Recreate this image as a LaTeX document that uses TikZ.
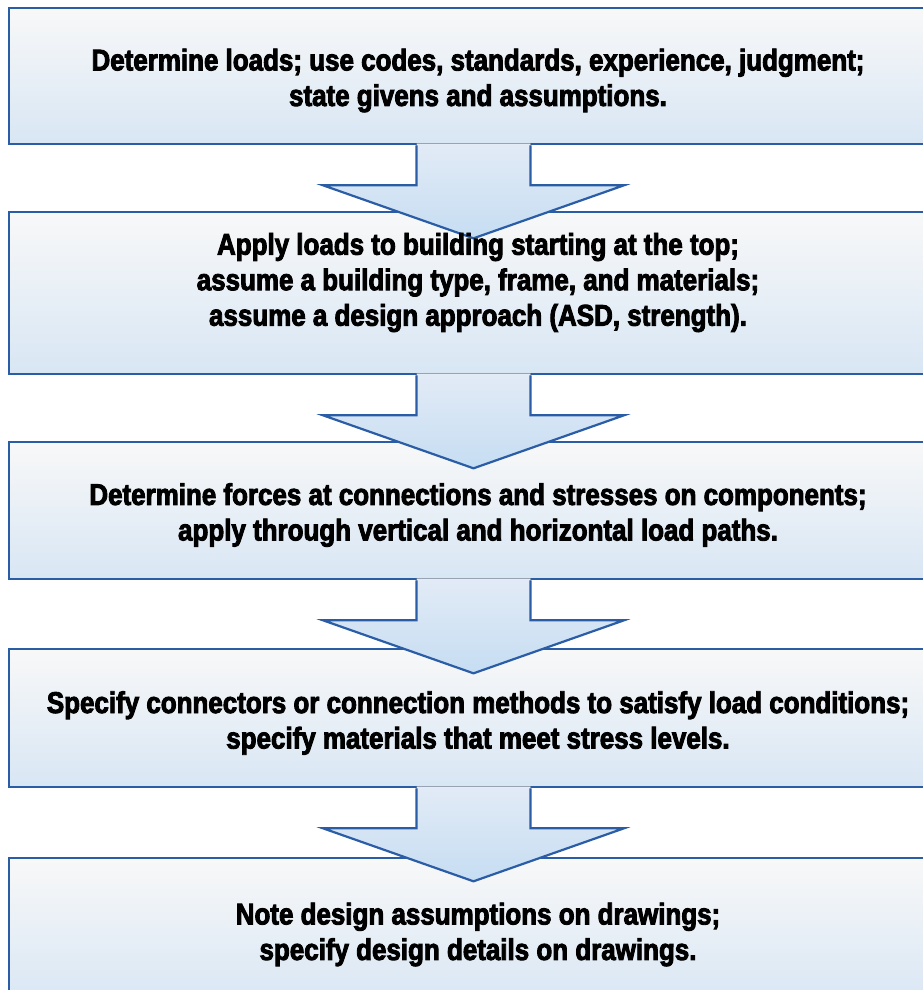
\documentclass[tikz,border=0pt]{standalone}
\usepackage{fontspec}
\setmainfont[FakeStretch=0.865,BoldFeatures={FakeBold=3}]{Liberation Sans}
\usetikzlibrary{calc}
\definecolor{edge}{RGB}{42,93,166}
\definecolor{boxtop}{RGB}{248,248,248}
\definecolor{boxbot}{RGB}{216,230,244}
\definecolor{arrtop}{RGB}{226,235,246}
\definecolor{arrbot}{RGB}{198,221,242}
\tikzset{
  stagebox/.style={draw=edge, line width=2.6pt, rectangle, inner sep=0pt,
    minimum width=938pt, top color=boxtop, bottom color=boxbot},
  stagetext/.style={inner sep=0pt, align=center,
    font=\fontsize{30}{35.5}\selectfont\bfseries},
  arrline/.style={draw=edge, line width=2.2pt, line join=miter},
  arrfill/.style={top color=arrtop, bottom color=arrbot}
}
\newcommand{\blockarrow}[1]{%
  \fill[arrfill] ($(#1.south)+(-61.5,-2)$) -- ($(#1.south)+(-61.5,40)$) -- ($(#1.south)+(-155,40)$)
    -- ($(#1.south)+(-4.5,93)$) -- ($(#1.south)+(146,40)$) -- ($(#1.south)+(52.5,40)$)
    -- ($(#1.south)+(52.5,-2)$) -- cycle;
  \draw[arrline] ($(#1.south)+(-61.5,0)$) -- ($(#1.south)+(-61.5,40)$) -- ($(#1.south)+(-155,40)$)
    -- ($(#1.south)+(-4.5,93)$) -- ($(#1.south)+(146,40)$) -- ($(#1.south)+(52.5,40)$)
    -- ($(#1.south)+(52.5,0)$);
}
\begin{document}
\begin{tikzpicture}[x=1pt,y=-1pt]
\useasboundingbox (0,0) rectangle (922,990);
\node[stagebox, minimum height=136pt] (b1) at (478,76) {};
\node[stagebox, minimum height=162pt] (b2) at (478,293) {};
\node[stagebox, minimum height=137pt] (b3) at (478,510.5) {};
\node[stagebox, minimum height=138pt] (b4) at (478,718) {};
\node[stagebox, minimum height=148pt] (b5) at (478,932) {};
\blockarrow{b1}
\blockarrow{b2}
\blockarrow{b3}
\blockarrow{b4}
\node[stagetext] (t1) at (478,80.5)
  {Determine loads; use codes, standards, experience, judgment;\\state givens and assumptions.};
\node[stagetext] (t2) at (478,282.5)
  {Apply loads to building starting at the top;\\assume a building type, frame, and materials;\\assume a design approach (ASD, strength).};
\node[stagetext] (t3) at (478,515)
  {Determine forces at connections and stresses on components;\\apply through vertical and horizontal load paths.};
\node[stagetext] (t4) at (478,723)
  {Specify connectors or connection methods to satisfy load conditions;\\specify materials that meet stress levels.};
\node[stagetext] (t5) at (478,934.5)
  {Note design assumptions on drawings;\\specify design details on drawings.};
\end{tikzpicture}
\end{document}
